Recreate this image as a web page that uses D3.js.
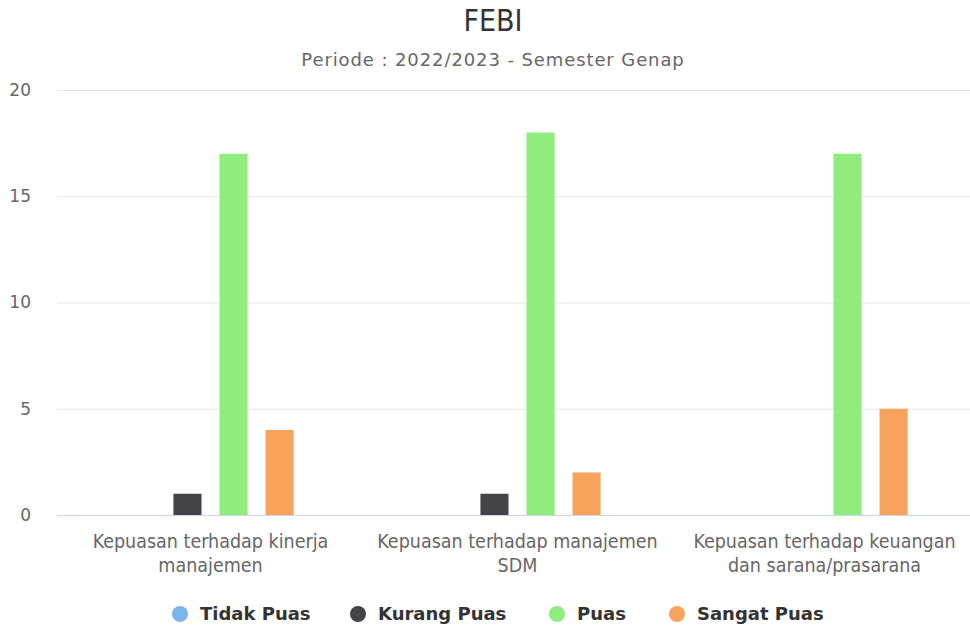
<!DOCTYPE html>
<html>
<head>
<meta charset="utf-8">
<script src="https://cdn.jsdelivr.net/npm/d3@7"></script>
<style>
  body { margin: 0; background: #fff; }
  svg { display: block; }
  text { font-family: "DejaVu Sans", sans-serif; }
</style>
</head>
<body>
<div id="chart"></div>
<script>
// data
const categories = [
  ["Kepuasan terhadap kinerja", "manajemen"],
  ["Kepuasan terhadap manajemen", "SDM"],
  ["Kepuasan terhadap keuangan", "dan sarana/prasarana"]
];
const seriesNames = ["Tidak Puas", "Kurang Puas", "Puas", "Sangat Puas"];
const seriesColors = ["#7cb5ec", "#434348", "#90ed7d", "#f7a35c"];
const tidakPuas = [0, 0, 0];
const kurangPuas = [1, 1, 0];
const puas = [17, 18, 17];
const sangatPuas = [4, 2, 5];
const yTicks = [0, 5, 10, 15, 20];

const values = [tidakPuas, kurangPuas, puas, sangatPuas];

const width = 970, height = 630;
const plot = { left: 57, right: 978, top: 90, bottom: 515 };

const svg = d3.select("#chart").append("svg")
  .attr("width", width)
  .attr("height", height);

// title + subtitle
svg.append("text")
  .attr("x", width / 2 + 8)
  .attr("y", 31)
  .attr("text-anchor", "middle")
  .attr("fill", "#333")
  .style("font-size", "30px")
  .style("font-stretch", "condensed")
  .style("font-family", "'DejaVu Sans Condensed', 'DejaVu Sans', sans-serif")
  .text("FEBI");

svg.append("text")
  .attr("x", width / 2 + 8)
  .attr("y", 66)
  .attr("text-anchor", "middle")
  .attr("fill", "#666")
  .style("font-size", "18px")
  .style("letter-spacing", "0.9px")
  .text("Periode : 2022/2023 - Semester Genap");

const x0 = d3.scaleBand()
  .domain(d3.range(categories.length))
  .range([plot.left, plot.right]);

const groupPad = x0.bandwidth() * 0.2;
const x1 = d3.scaleBand()
  .domain(d3.range(seriesNames.length))
  .range([groupPad, x0.bandwidth() - groupPad])
  .paddingInner(0.39)
  .paddingOuter(0.195);

const y = d3.scaleLinear()
  .domain([0, 20])
  .range([plot.bottom, plot.top]);

// grid
const yAxis = d3.axisLeft(y)
  .tickValues(yTicks)
  .tickSize(-(plot.right - plot.left))
  .tickPadding(26);

const gy = svg.append("g")
  .attr("transform", `translate(${plot.left},0)`)
  .call(yAxis);
gy.select(".domain").remove();
gy.selectAll(".tick line").attr("stroke", "#e6e6e6");
gy.selectAll(".tick text")
  .attr("fill", "#666")
  .style("font-size", "17px");

// x axis line
svg.append("line")
  .attr("x1", plot.left).attr("x2", plot.right)
  .attr("y1", y(0) + 0.5).attr("y2", y(0) + 0.5)
  .attr("stroke", "#ccd6eb");

// bars
const groups = svg.append("g").selectAll("g")
  .data(categories)
  .join("g")
  .attr("transform", (d, i) => `translate(${x0(i)},0)`);

groups.selectAll("rect")
  .data((d, i) => values.map((s, j) => ({ s: j, v: s[i] })))
  .join("rect")
  .attr("x", d => x1(d.s))
  .attr("width", x1.bandwidth())
  .attr("y", d => y(d.v))
  .attr("height", d => y(0) - y(d.v))
  .attr("fill", d => seriesColors[d.s]);

// category labels
const labels = svg.append("g").selectAll("text")
  .data(categories)
  .join("text")
  .attr("x", (d, i) => x0(i) + x0.bandwidth() / 2)
  .attr("y", 548)
  .attr("text-anchor", "middle")
  .attr("fill", "#666")
  .style("font-size", "19.5px")
  .style("font-stretch", "condensed")
  .style("font-family", "'DejaVu Sans Condensed', 'DejaVu Sans', sans-serif");

labels.selectAll("tspan")
  .data(d => d)
  .join("tspan")
  .attr("x", function() { return this.parentNode.getAttribute("x"); })
  .attr("dy", (d, i) => i ? 24 : 0)
  .text(d => d);

// legend
const legendX = [180, 358, 557, 677];
const legend = svg.append("g").selectAll("g")
  .data(seriesNames)
  .join("g")
  .attr("transform", (d, i) => `translate(${legendX[i]},614)`);

legend.append("circle")
  .attr("r", 8)
  .attr("fill", (d, i) => seriesColors[i]);

legend.append("text")
  .attr("x", 20)
  .attr("dy", "0.35em")
  .attr("fill", "#333")
  .style("font-size", "18px")
  .style("font-weight", "bold")
  .text(d => d);
</script>
</body>
</html>
